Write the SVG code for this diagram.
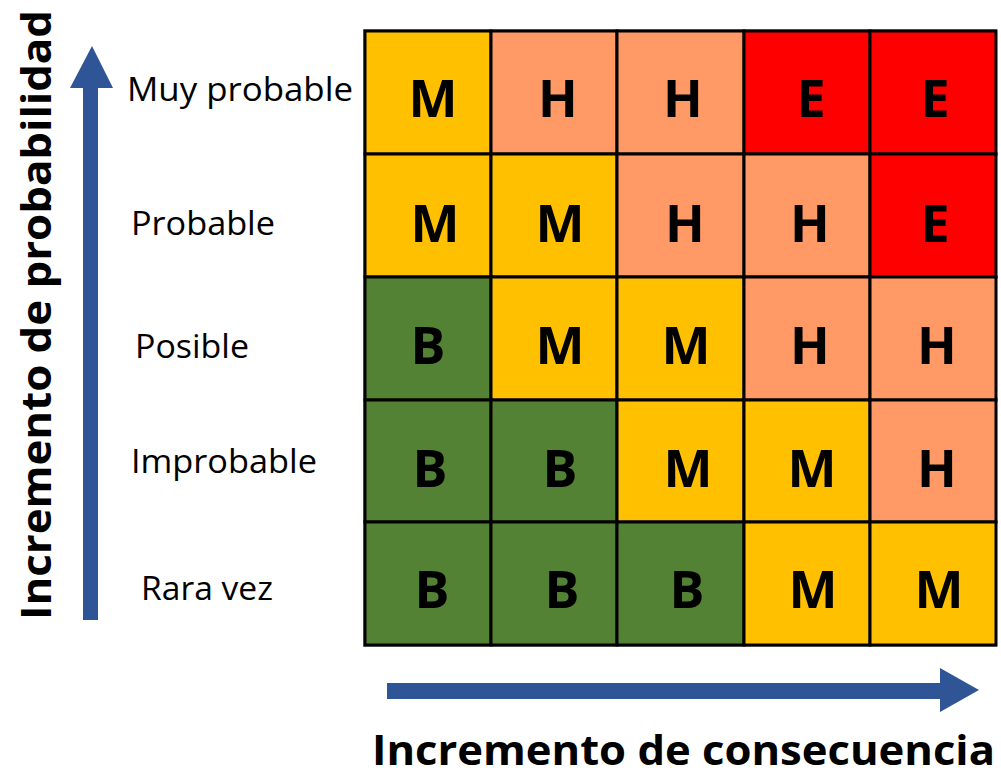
<svg xmlns="http://www.w3.org/2000/svg" width="1001" height="775" viewBox="0 0 1001 775">
<style>
.y{fill:#FFC000}.o{fill:#FF9966}.r{fill:#FF0000}.g{fill:#548235}
.c{stroke:#000;stroke-width:3}
.l{font-family:"Open Sans","Liberation Sans",sans-serif;font-weight:bold;font-size:52px;fill:#000;text-anchor:middle}
.rl{font-family:"Open Sans","Liberation Sans",sans-serif;font-size:33px;fill:#000}
.ax{font-family:"Open Sans","Liberation Sans",sans-serif;font-weight:bold;font-size:42px;fill:#000}
.ar{fill:#2F5597}
</style>
<rect width="1001" height="775" fill="#fff"/>
<g id="grid">
<rect x="363" y="29" width="634" height="618" fill="#999"/>
<g class="c">
<rect class="y" x="365" y="31" width="126" height="123"/>
<rect class="o" x="491" y="31" width="126" height="123"/>
<rect class="o" x="617" y="31" width="127" height="123"/>
<rect class="r" x="744" y="31" width="126" height="123"/>
<rect class="r" x="870" y="31" width="126" height="123"/>
<rect class="y" x="365" y="154" width="126" height="123"/>
<rect class="y" x="491" y="154" width="126" height="123"/>
<rect class="o" x="617" y="154" width="127" height="123"/>
<rect class="o" x="744" y="154" width="126" height="123"/>
<rect class="r" x="870" y="154" width="126" height="123"/>
<rect class="g" x="365" y="277" width="126" height="123"/>
<rect class="y" x="491" y="277" width="126" height="123"/>
<rect class="y" x="617" y="277" width="127" height="123"/>
<rect class="o" x="744" y="277" width="126" height="123"/>
<rect class="o" x="870" y="277" width="126" height="123"/>
<rect class="g" x="365" y="400" width="126" height="122"/>
<rect class="g" x="491" y="400" width="126" height="122"/>
<rect class="y" x="617" y="400" width="127" height="122"/>
<rect class="y" x="744" y="400" width="126" height="122"/>
<rect class="o" x="870" y="400" width="126" height="122"/>
<rect class="g" x="365" y="522" width="126" height="123"/>
<rect class="g" x="491" y="522" width="126" height="123"/>
<rect class="g" x="617" y="522" width="127" height="123"/>
<rect class="y" x="744" y="522" width="126" height="123"/>
<rect class="y" x="870" y="522" width="126" height="123"/>
</g>
</g>
<g id="cells">
<text class="l" x="433" y="117">M</text><text class="l" x="558" y="117">H</text><text class="l" x="683" y="117">H</text><text class="l" x="811" y="117">E</text><text class="l" x="935" y="117">E</text>
<text class="l" x="435" y="242">M</text><text class="l" x="560" y="242">M</text><text class="l" x="685" y="242">H</text><text class="l" x="810" y="242">H</text><text class="l" x="935" y="242">E</text>
<text class="l" x="428" y="364">B</text><text class="l" x="560" y="364">M</text><text class="l" x="686" y="364">M</text><text class="l" x="810" y="364">H</text><text class="l" x="937" y="364">H</text>
<text class="l" x="430" y="487">B</text><text class="l" x="560" y="487">B</text><text class="l" x="688" y="487">M</text><text class="l" x="812" y="487">M</text><text class="l" x="937" y="487">H</text>
<text class="l" x="432" y="608">B</text><text class="l" x="562" y="608">B</text><text class="l" x="687" y="608">B</text><text class="l" x="813" y="608">M</text><text class="l" x="939" y="608">M</text>
</g>
<g id="row-labels">
<text class="rl" x="127" y="101" textLength="226" lengthAdjust="spacingAndGlyphs">Muy probable</text>
<text class="rl" x="131" y="235" textLength="144" lengthAdjust="spacingAndGlyphs">Probable</text>
<text class="rl" x="135" y="358" textLength="114" lengthAdjust="spacingAndGlyphs">Posible</text>
<text class="rl" x="131" y="473" textLength="186" lengthAdjust="spacingAndGlyphs">Improbable</text>
<text class="rl" x="141" y="600" textLength="132" lengthAdjust="spacingAndGlyphs">Rara vez</text>
</g>
<g id="connectors">
<polygon class="ar" points="83,620 98,620 98,88 113,88 92,46 70,88 83,88"/>
<polygon class="ar" points="387,683 940,683 940,668 979,690 940,712 940,699 387,699"/>
</g>
<g id="axis-labels">
<text class="ax" x="372" y="765" textLength="623" lengthAdjust="spacingAndGlyphs">Incremento de consecuencia</text>
<text class="ax" transform="translate(51,620) rotate(-90)" x="0" y="0" textLength="610" lengthAdjust="spacingAndGlyphs">Incremento de probabilidad</text>
</g>
</svg>
